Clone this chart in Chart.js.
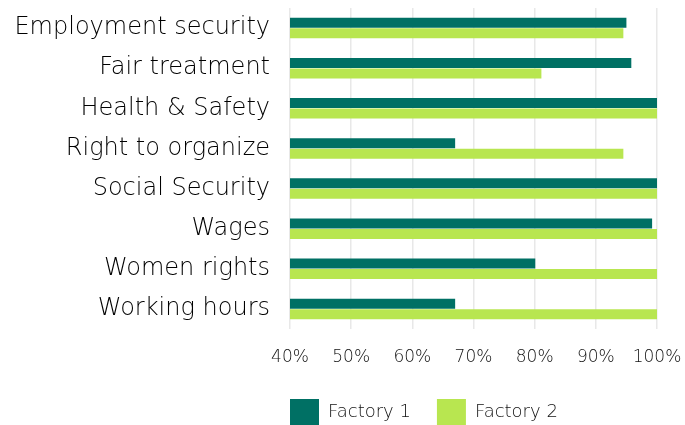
<!DOCTYPE html>
<html>
<head>
<meta charset="utf-8">
<script src="https://cdn.jsdelivr.net/npm/chart.js@4"></script>
<style>
html,body{margin:0;padding:0;background:#fff;}
#wrap{width:685px;height:425px;position:relative;}
</style>
</head>
<body>
<div id="wrap"><canvas id="c" width="685" height="425"></canvas></div>
<script>
const categories = ["Employment security","Fair treatment","Health & Safety","Right to organize","Social Security","Wages","Women rights","Working hours"];
const factory1 = [95.0, 95.8, 100, 67.0, 100, 99.2, 80.1, 67.0];
const factory2 = [94.5, 81.1, 100, 94.5, 100, 100, 100, 100];
const seriesNames = ["Factory 1","Factory 2"];
const xTicks = [40,50,60,70,80,90,100];

const FONT = "'DejaVu Sans', sans-serif";
const LEGEND_PAD = 26;

const legendShift = {
  id: 'legendShift',
  afterLayout(chart) {
    if (chart.legend) { chart.legend.left = chart.chartArea.left - LEGEND_PAD; }
  }
};

new Chart(document.getElementById('c'), {
  type: 'bar',
  data: {
    labels: categories,
    datasets: [
      {label: seriesNames[0], data: factory1, backgroundColor: '#007064', borderWidth: 0, categoryPercentage: 0.52, barPercentage: 0.96},
      {label: seriesNames[1], data: factory2, backgroundColor: '#b8e650', borderWidth: 0, categoryPercentage: 0.52, barPercentage: 0.96}
    ]
  },
  options: {
    indexAxis: 'y',
    responsive: false,
    animation: false,
    layout: {padding: {top: 8, right: 28, left: 0, bottom: -10}},
    scales: {
      x: {
        min: 40, max: 100,
        afterBuildTicks: (s) => { s.ticks = xTicks.map(v => ({value: v})); },
        afterFit: (s) => { s.height = 44; s.paddingRight = 0; s.paddingLeft = 0; },
        grid: {color: '#e8e8e8', lineWidth: 1.5, drawTicks: false},
        border: {display: false},
        ticks: {callback: v => v + '%', color: '#111', font: {family: FONT, size: 17, weight: 200}, padding: 18, maxRotation: 0}
      },
      y: {
        grid: {display: false, drawTicks: true, tickLength: 20},
        border: {display: false},
        afterFit: (s) => { s.width = 290; s.paddingTop = 0; s.paddingBottom = 0; },
        ticks: {color: '#000', font: {family: FONT, size: 24, weight: 200}, padding: 0}
      }
    },
    plugins: {
      legend: {
        position: 'bottom',
        fullSize: false,
        align: 'start',
        labels: {boxWidth: 29, boxHeight: 26, padding: LEGEND_PAD, color: '#111', font: {family: FONT, size: 18, weight: 200}}
      },
      tooltip: {enabled: false}
    }
  },
  plugins: [legendShift]
});
</script>
</body>
</html>
